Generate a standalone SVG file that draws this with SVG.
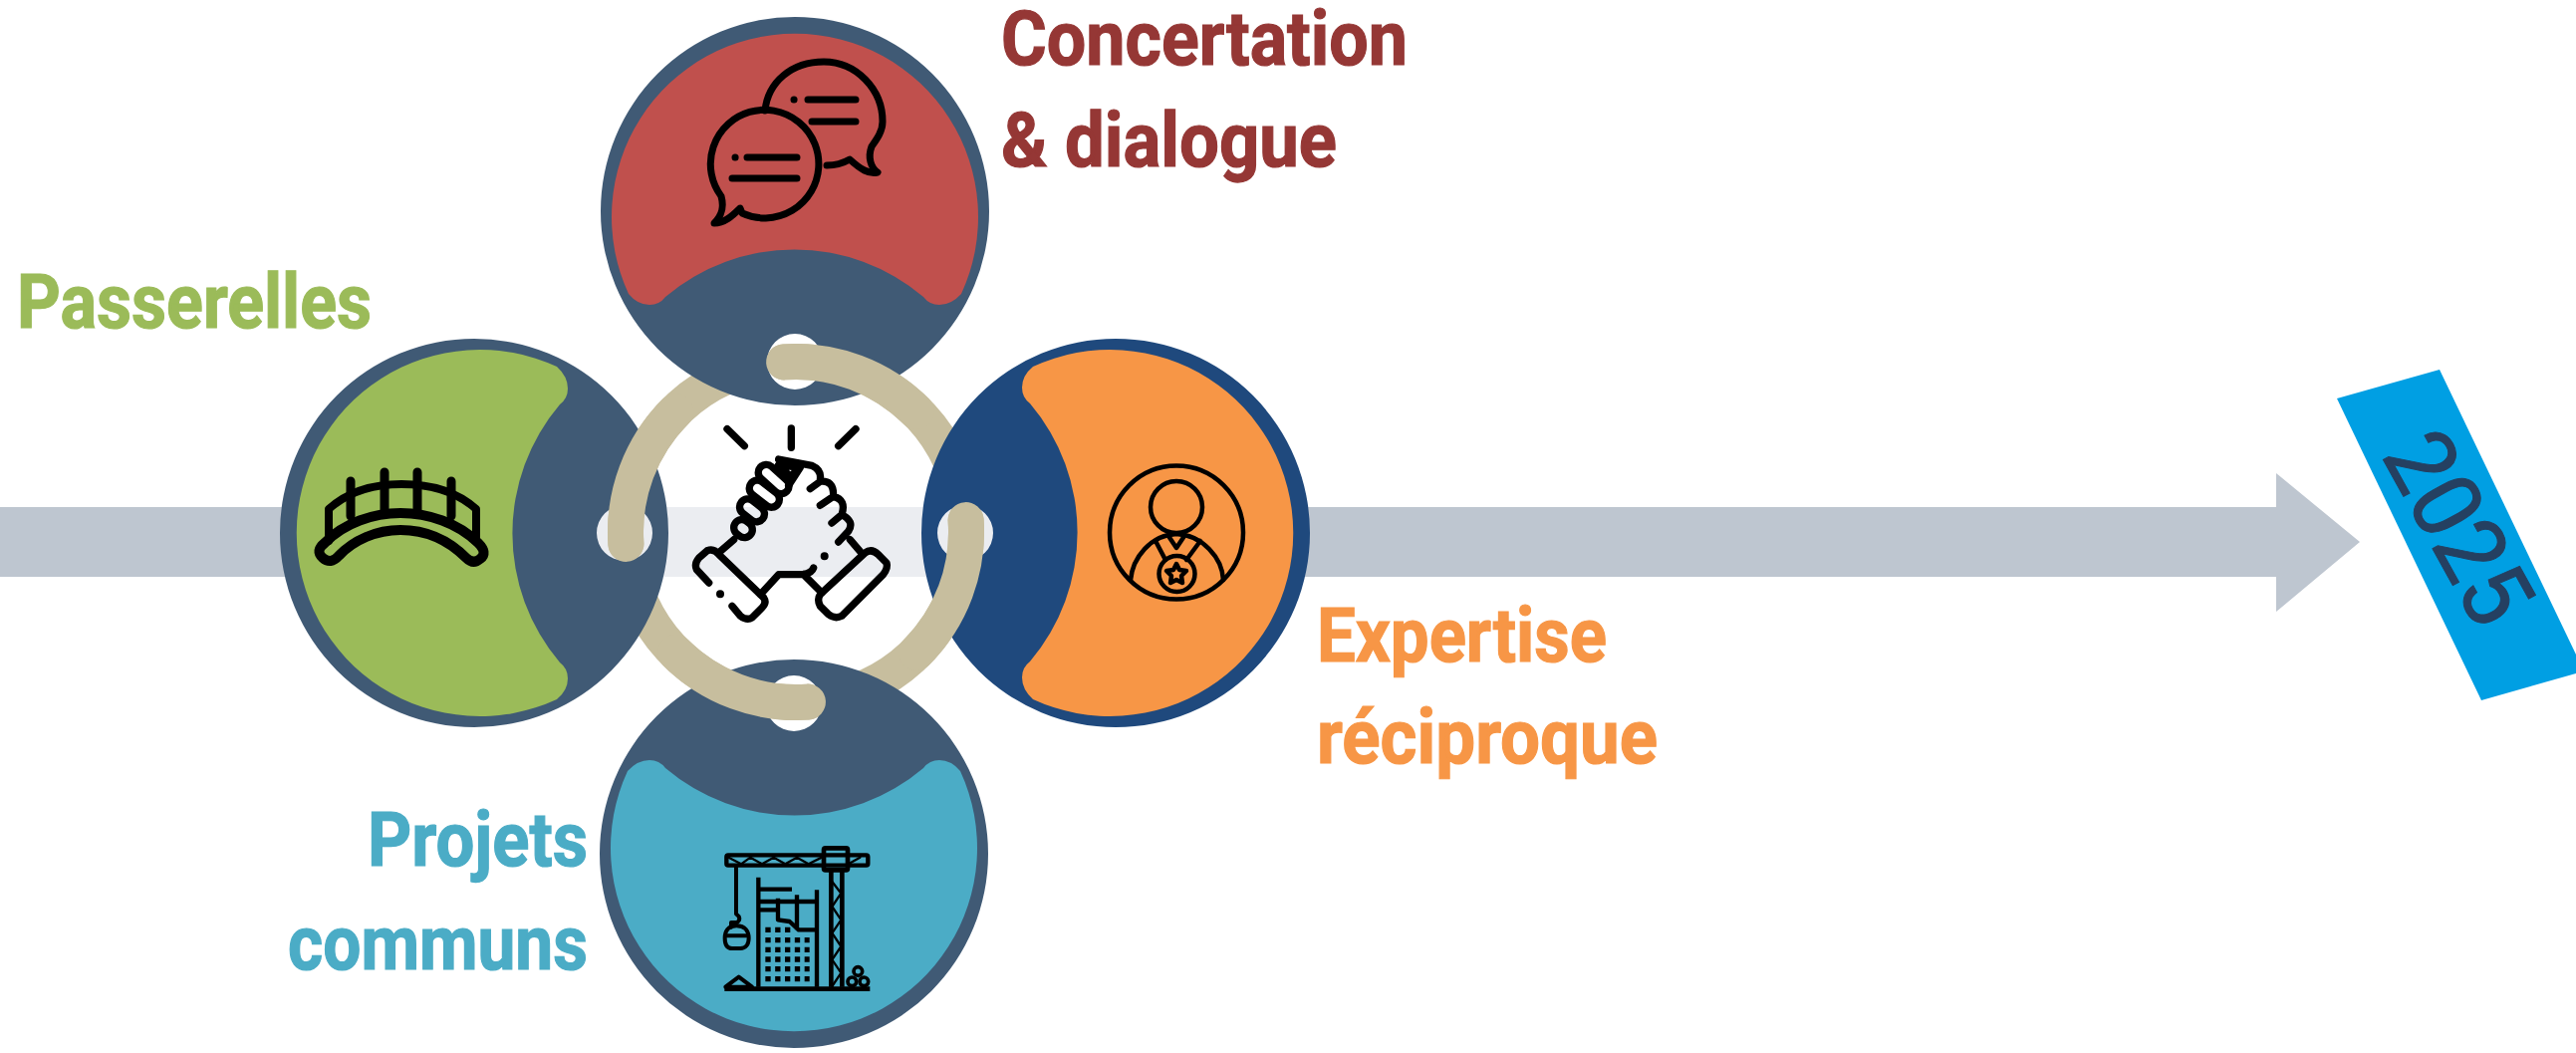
<svg xmlns="http://www.w3.org/2000/svg" xmlns:xlink="http://www.w3.org/1999/xlink" width="2586" height="1057" viewBox="0 0 2586 1057">
<style>
.lbl{font-family:Roboto,"Liberation Sans",Arial,sans-serif;font-weight:700;font-size:76px;stroke-width:1.2px}
.ic{fill:none;stroke:#000;stroke-linecap:round;stroke-linejoin:round}
.b{stroke-linecap:butt}
.ring{fill:none;stroke:#C7BE9E;stroke-width:36;stroke-linecap:round}
</style>
<defs>
<path id="disc" fill-rule="evenodd" d="M-195,0A195,195 0 1 1 195,0A195,195 0 1 1 -195,0ZM-28,151A28,28 0 1 0 28,151A28,28 0 1 0 -28,151Z"/>
<path id="petal" d="M-167,83A184,184 0 1 1 167,83Q157,94 145,94Q135,94 129,86A200,200 0 0 0 -130,86Q-136,94 -146,94Q-158,94 -167,83Z"/>
<path id="under" class="ring" d="M-11.9,-170.6A171,171 0 0 1 160.7,-58.5"/>
<path id="over" class="ring" d="M-11.9,-170.6A171,171 0 0 1 120.9,-120.9"/>
</defs>
<g id="connectors">
<path id="timeline" fill="#BEC6D0" d="M0,509H2285V475L2369,544L2285,614V579H0Z"/>
<circle cx="799" cy="534" r="205" fill="#fff" fill-opacity=".69"/>
<use href="#under" transform="translate(799,534)"/>
<use href="#under" transform="translate(799,534) rotate(90)"/>
<use href="#under" transform="translate(799,534) rotate(180)"/>
<use href="#under" transform="translate(799,534) rotate(270)"/>
</g>
<g id="node-concertation">
<use href="#disc" transform="translate(798,212)" fill="#405A75"/>
<use href="#petal" transform="translate(798,212)" fill="#C0504D"/>
<g class="ic" stroke-width="7">
<path d="M768,111C771,82 795,62 827,62C860,62 886,90 886,122C886,132 880,140 875,147C871,158 874,168 881,173C872,175 864,170 853,160C846,164 838,166 830,166"/>
<path d="M724,197A54.300,54.300 0 1 1 745,214L743,209C735,217 727,224 717,224C725,216 727,208 724,197Z"/>
<path d="M811,100H859M815,122H859M750,158H800M735,179H800M797,100h.1M738,158h.1"/>
</g>
<text class="lbl" fill="#953735" stroke="#953735" x="1005" y="65" textLength="408" lengthAdjust="spacingAndGlyphs">Concertation</text>
<text class="lbl" fill="#953735" stroke="#953735" x="1005" y="167" textLength="337" lengthAdjust="spacingAndGlyphs">&amp; dialogue</text>
</g>
<g id="node-passerelles">
<use href="#disc" transform="translate(476,535) rotate(-90)" fill="#405A75"/>
<use href="#petal" transform="translate(476,535) rotate(-90)" fill="#9BBB59"/>
<g class="ic" stroke-width="10">
<path d="M326,545C345,525 375,515 402,515C430,515 460,525 480,545Q490,555 482,561Q475,567 468,560C450,542 428,532 402,532C378,532 355,542 340,558Q332,567 324,560Q316,553 326,545Z"/>
<path d="M330,543V511C350,493 375,486 403,486C432,486 458,493 478,511V543" stroke-width="8"/>
<path d="M352,483V518M386,474V512M419,474V512M453,483V518" stroke-width="9"/>
</g>
<text class="lbl" fill="#9BBB59" stroke="#9BBB59" x="17" y="329" textLength="356" lengthAdjust="spacingAndGlyphs">Passerelles</text>
</g>
<g id="node-expertise">
<use href="#disc" transform="translate(1120,535) rotate(90)" fill="#1F497D"/>
<use href="#petal" transform="translate(1120,535) rotate(90)" fill="#F79646"/>
<g class="ic" stroke-width="4.500">
<circle cx="1181" cy="534.500" r="67"/>
<circle cx="1181" cy="509" r="26"/>
<path d="M1135,582C1137,560 1155,537 1181,536C1207,537 1227,560 1228,582"/>
<path d="M1160,543L1170,562M1205,543L1191,562M1173,538L1181,550L1189,538"/>
<circle cx="1181.500" cy="576" r="18"/>
<path d="M1181,566L1184,572L1191,573L1186,578L1187,585L1181,582L1175,585L1176,578L1171,573L1178,572Z"/>
</g>
<text class="lbl" fill="#F79646" stroke="#F79646" x="1322" y="664" textLength="291" lengthAdjust="spacingAndGlyphs">Expertise</text>
<text class="lbl" fill="#F79646" stroke="#F79646" x="1322" y="766" textLength="342" lengthAdjust="spacingAndGlyphs">réciproque</text>
</g>
<g id="node-projets">
<use href="#disc" transform="translate(797,857) rotate(180)" fill="#405A75"/>
<use href="#petal" transform="translate(797,857) rotate(180)" fill="#4BACC6"/>
<g transform="translate(580,640) scale(.33333)" class="ic" stroke-width="13">
<path class="b" d="M442,1058H880" stroke-width="14"/>
<rect x="448" y="655" width="426" height="31" rx="5"/>
<rect x="741" y="634" width="72" height="66" rx="5" stroke-width="14"/>
<path d="M450,660L492,682L520,662L555,682L590,662L625,682L660,662L695,682L735,662M815,682L850,662" stroke-width="7"/>
<path class="b" d="M763,700V1052M796,700V1052" stroke-width="14"/>
<path d="M766,735L793,770L766,810L793,850L766,890L793,930L766,970L793,1010L766,1050" stroke-width="7"/>
<path d="M477,688V832Q495,845 480,858H462V872" stroke-width="12"/>
<path d="M478,868C505,868 515,885 515,905C515,925 505,936 490,936H465C450,936 443,925 443,905C443,885 452,868 478,868ZM445,898H513" stroke-width="12"/>
<path class="b" d="M544,722V1052M720,760V1052M544,758H645M544,795H720M544,820H600M603,785V850L638,855L665,880H720M660,775V880"/>
<path class="b" d="M565,880H642M565,911H698M565,940H698M565,969H698M565,998H698M565,1028H698" stroke-width="16" stroke-dasharray="16 13.500"/>
<path d="M445,1052L485,1022L525,1052Z" stroke-width="12"/>
<circle cx="844" cy="1005" r="13" stroke-width="11"/><circle cx="826" cy="1036" r="13" stroke-width="11"/><circle cx="862" cy="1036" r="13" stroke-width="11"/>
</g>
<text class="lbl" fill="#4BACC6" stroke="#4BACC6" x="369" y="869" textLength="221" lengthAdjust="spacingAndGlyphs">Projets</text>
<text class="lbl" fill="#4BACC6" stroke="#4BACC6" x="289" y="973" textLength="301" lengthAdjust="spacingAndGlyphs">communs</text>
</g>
<g id="ring-links">
<use href="#over" transform="translate(799,534)"/>
<use href="#over" transform="translate(799,534) rotate(90)"/>
<use href="#over" transform="translate(799,534) rotate(180)"/>
<use href="#over" transform="translate(799,534) rotate(270)"/>
</g>
<g id="node-center">
<g transform="translate(660,400) scale(.33333)" class="ic" stroke-width="22">
<path d="M210,92L262,143M403,90V148M597,92L545,143"/>
<path d="M155,555L118,515Q110,498 125,480L150,458Q170,450 185,470L320,600Q330,615 315,630L285,660Q270,670 250,655L225,625"/>
<path d="M190,460L230,425"/>
<path d="M189,589h.1M503,475h.1" stroke-width="24"/>
<rect x="-29" y="-24" width="58" height="48" rx="24" transform="translate(258,392) rotate(38)"/>
<rect x="-41" y="-24" width="82" height="48" rx="24" transform="translate(285,337) rotate(38)"/>
<rect x="-51" y="-24" width="102" height="48" rx="24" transform="translate(322,287) rotate(38)"/>
<rect x="-54" y="-24" width="108" height="48" rx="24" transform="translate(350,243) rotate(42)"/>
<path d="M365,183L465,202Q495,215 490,245M460,272L490,250Q530,245 530,290M490,322L530,295Q570,305 555,350M525,375L555,350Q595,370 575,400M545,432L575,400M580,425L610,460"/>
<path d="M365,200L430,208L400,235ZM430,208L395,262"/>
<path d="M490,590L625,465Q645,450 665,470L690,495Q695,510 680,530L555,655Q535,665 515,650L490,625Q480,605 490,590Z"/>
<path d="M310,590L365,530H440Q465,525 470,510M440,530L495,585"/>
</g>
</g>
<g id="node-2025">
<polygon fill="#009FE3" points="2346,400 2449,371 2586,657 2586,676 2491,703"/>
<text transform="translate(2468,530) rotate(61)" y="33" text-anchor="middle" fill="#254061" stroke="#254061" stroke-width="1" font-family="Roboto,'Liberation Sans',sans-serif" font-size="96" font-weight="400" textLength="204" lengthAdjust="spacingAndGlyphs">2025</text>
</g>
</svg>
